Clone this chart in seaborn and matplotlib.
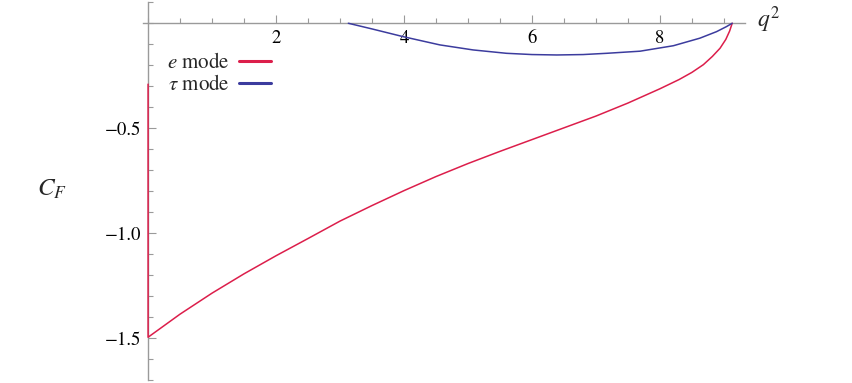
import numpy as np
import pandas as pd
import seaborn as sns
import matplotlib.pyplot as plt
from matplotlib.lines import Line2D
from matplotlib.ticker import MultipleLocator

sns.set_style("white")
plt.rcParams['font.family'] = ['STIXGeneral', 'DejaVu Serif']
plt.rcParams['mathtext.fontset'] = 'stix'

RED = '#dc1e4b'
BLUE = '#3c3c9e'
AXIS_GREY = '#9a9a9a'

# e mode: vertical jump at q2=0 then the rising curve up to the endpoint
q2_e = [0.0, 0.0, 0.5, 1.0, 1.5, 2.0, 2.5, 3.0, 3.5, 4.0, 4.5, 5.0, 5.5,
        6.0, 6.5, 7.0, 7.5, 8.0, 8.3, 8.5, 8.68, 8.82, 8.94, 9.03, 9.09, 9.13]
cf_e = [-0.29, -1.495, -1.385, -1.285, -1.193, -1.107, -1.025, -0.942,
        -0.868, -0.797, -0.730, -0.668, -0.610, -0.554, -0.498, -0.442,
        -0.380, -0.312, -0.268, -0.234, -0.197, -0.158, -0.119, -0.077,
        -0.037, 0.0]

# tau mode: starts at the tau threshold
q2_tau = [3.13, 3.5, 3.99, 4.56, 5.08, 5.6, 6.0, 6.39, 6.8, 7.17, 7.69,
          8.21, 8.625, 8.885, 9.04, 9.13]
cf_tau = [0.0, -0.027, -0.064, -0.103, -0.127, -0.143, -0.149, -0.151,
          -0.149, -0.143, -0.133, -0.107, -0.071, -0.040, -0.016, 0.0]

x_major = [2, 4, 6, 8]
y_major = [-1.5, -1.0, -0.5]

df_e = pd.DataFrame({'q2': q2_e, 'CF': cf_e})
df_tau = pd.DataFrame({'q2': q2_tau, 'CF': cf_tau})

fig = plt.figure(figsize=(8.52, 3.83), dpi=100)
ax = fig.add_axes([0.1678, 0.0071, 0.7066, 0.987])

sns.lineplot(data=df_e, x='q2', y='CF', sort=False, estimator=None,
             color=RED, lw=1.1, zorder=3, ax=ax)
sns.lineplot(data=df_tau, x='q2', y='CF', sort=False, estimator=None,
             color=BLUE, lw=1.1, zorder=3, ax=ax)

ax.set_xlim(-0.08, 9.33)
ax.set_ylim(-1.70, 0.10)

# Mathematica-style axes crossing at the origin
for s in ['top', 'right']:
    ax.spines[s].set_visible(False)
ax.spines['left'].set_position(('data', 0))
ax.spines['bottom'].set_position(('data', 0))
for s in ['left', 'bottom']:
    ax.spines[s].set_color(AXIS_GREY)
    ax.spines[s].set_linewidth(1.0)

ax.xaxis.set_major_locator(plt.FixedLocator(x_major))
ax.xaxis.set_minor_locator(MultipleLocator(0.5))
ax.yaxis.set_major_locator(plt.FixedLocator(y_major))
ax.yaxis.set_minor_locator(MultipleLocator(0.1))
ax.set_xticklabels([str(v) for v in x_major])
ax.set_yticklabels([f'{v:.1f}'.replace('-', '\u2212') for v in y_major])

ax.tick_params(which='both', direction='in', bottom=True, left=True,
               color=AXIS_GREY, width=0.8, labelsize=13.5, labelcolor='black')
ax.tick_params(which='major', length=6)
ax.tick_params(which='minor', length=3.5)
ax.tick_params(axis='x', which='major', pad=5)
ax.tick_params(axis='y', which='major', pad=5)

ax.set_xlabel('')
ax.set_ylabel('')
fig.text(769 / 852, 1 - 20 / 383, '$q^2$', fontsize=17, ha='center', va='center')
fig.text(52 / 852, 1 - 190 / 383, '$C_F$', fontsize=18, ha='center', va='center')

handles = [Line2D([], [], color=RED, lw=2.2), Line2D([], [], color=BLUE, lw=2.2)]
ax.legend(handles, ['$e$ mode', r'$\tau$ mode'], loc='upper left',
          bbox_to_anchor=(167 / 852, 1 - 53 / 383), bbox_transform=fig.transFigure,
          frameon=False, markerfirst=False, fontsize=15, handlelength=1.55,
          handletextpad=0.45, labelspacing=0.1, borderpad=0, borderaxespad=0)

fig.savefig('out.png', dpi=100)
